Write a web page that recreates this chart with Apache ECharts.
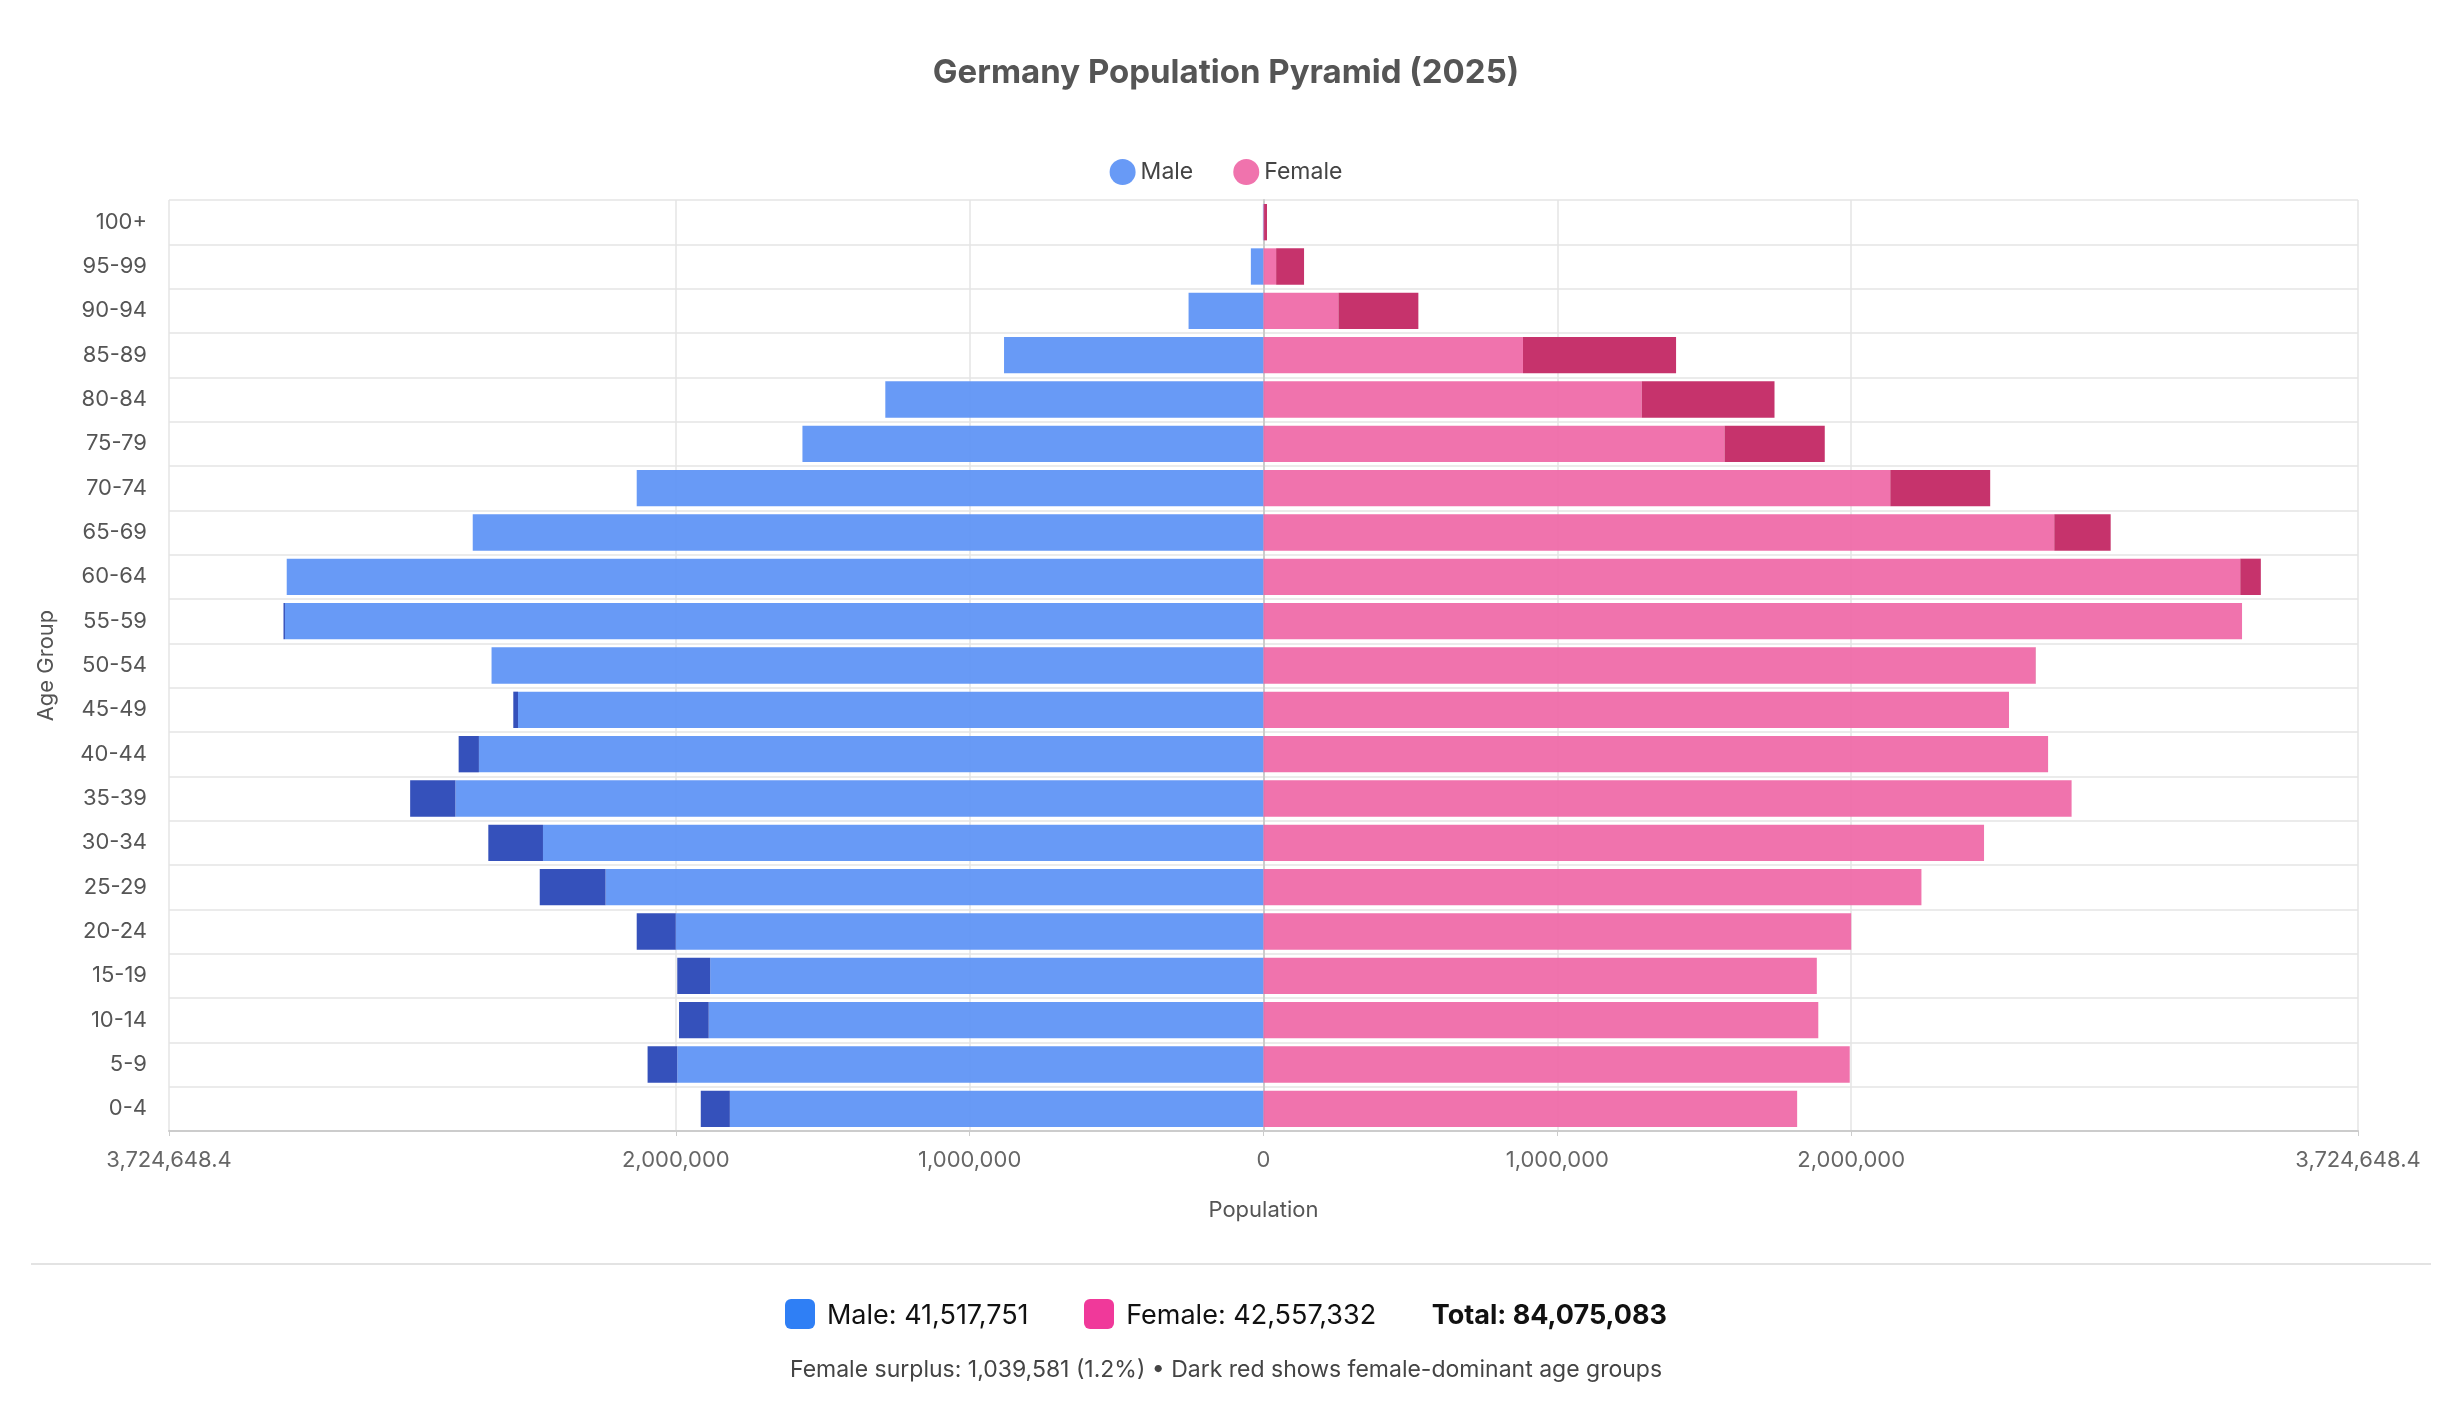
<!DOCTYPE html>
<html>
<head>
<meta charset="utf-8">
<script src="https://cdn.jsdelivr.net/npm/echarts@6/dist/echarts.min.js"></script>
<style>
    body{margin:0;background:#fff;font-family:Inter,"Noto Sans",sans-serif;}
    #chart{width:2452px;height:1408px;position:absolute;left:0;top:0;}
    #sep{position:absolute;left:31px;width:2400px;top:1263px;border-top:2px solid #e3e3e3;}
    #sum{position:absolute;left:0;width:2452px;top:1298px;text-align:center;font-size:27px;color:#111;}
    #sum .ico{display:inline-block;width:30px;height:30px;border-radius:6px;vertical-align:-5px;margin-right:12px;}
    #sum span.item{margin:0 24px;}
    #note{position:absolute;left:0;width:2452px;top:1355px;text-align:center;font-size:23px;color:#444;}
</style>
</head>
<body>
<div id="chart"></div>
<div id="sep"></div>
<div id="sum">
    <span class="item"><b class="ico" style="background:#2f7ff5"></b>Male: 41,517,751</span>
    <span class="item"><b class="ico" style="background:#f0399a"></b>Female: 42,557,332</span>
    <span class="item"><b>Total: 84,075,083</b></span>
</div>
<div id="note">Female surplus: 1,039,581 (1.2%) • Dark red shows female-dominant age groups</div>
<script>
// 年龄组（从下到上）
var ageGroups=["0-4","5-9","10-14","15-19","20-24","25-29","30-34","35-39","40-44","45-49","50-54","55-59","60-64","65-69","70-74","75-79","80-84","85-89","90-94","95-99","100+"];
var maleValues=[1915000,2096000,1989000,1995000,2133000,2463000,2638000,2904000,2739000,2553000,2627000,3335000,3324000,2691000,2133000,1569000,1287000,883000,255000,43000,2000];
var femaleValues=[1816000,1995000,1888000,1883000,2000000,2239000,2452000,2750000,2670000,2537000,2628000,3330000,3394000,2883000,2473000,1910000,1739000,1404000,527000,138000,12000];
var axisMax=3724648.4;
var tickValues=[-axisMax,-2000000,-1000000,0,1000000,2000000,axisMax];

var maleBase=[],maleExtra=[],femaleBase=[],femaleExtra=[];
for(var i=0;i<ageGroups.length;i++){
    var m=maleValues[i],f=femaleValues[i],lo=Math.min(m,f);
    maleBase.push(-lo);
    maleExtra.push(-Math.max(0,m-f));
    femaleBase.push(lo);
    femaleExtra.push(Math.max(0,f-m));
}

function fmt(v){
    v=Math.abs(v);
    if(Math.abs(v-axisMax)<1) return "3,724,648.4";
    return v.toLocaleString("en-US");
}

var chart=echarts.init(document.getElementById("chart"));
chart.setOption({
    animation:false,
    textStyle:{fontFamily:'Inter,"Noto Sans",sans-serif'},
    title:{text:"Germany Population Pyramid (2025)",left:"center",top:52,
        textStyle:{fontSize:33,fontWeight:"bold",color:"#555"}},
    legend:{data:["Male","Female"],top:154,icon:"circle",itemWidth:26,itemHeight:26,itemGap:40,
        textStyle:{fontSize:23,color:"#444"}},
    grid:{left:169,right:94,top:200,bottom:277},
    xAxis:{
        type:"value",min:-axisMax,max:axisMax,
        name:"Population",nameLocation:"middle",nameGap:68,
        nameTextStyle:{fontSize:22,color:"#555"},
        axisLine:{show:true,lineStyle:{color:"#ccc",width:2}},
        axisTick:{show:true,customValues:tickValues,lineStyle:{color:"#ccc"}},
        axisLabel:{customValues:tickValues,formatter:fmt,fontSize:22,color:"#666",margin:18},
        splitLine:{show:true,lineStyle:{color:"#e5e5e5",width:1.5}}
    },
    yAxis:{
        type:"category",data:ageGroups,
        name:"Age Group",nameLocation:"middle",nameGap:112,nameRotate:90,
        nameTextStyle:{fontSize:22,color:"#555"},
        axisLine:{show:true,lineStyle:{color:"#ccc",width:2}},
        axisTick:{show:false},
        axisLabel:{fontSize:22,color:"#555",margin:22},
        splitLine:{show:true,lineStyle:{color:"#e5e5e5",width:1.5}}
    },
    series:[
        {name:"Male",type:"bar",stack:"male",data:maleBase,barCategoryGap:"18%",
            itemStyle:{color:"#5b91f5",opacity:0.92}},
        {name:"Male surplus",type:"bar",stack:"male",data:maleExtra,
            itemStyle:{color:"#3551bb"}},
        {name:"Female",type:"bar",stack:"female",data:femaleBase,barGap:"-100%",
            itemStyle:{color:"#ef67a6",opacity:0.92}},
        {name:"Female surplus",type:"bar",stack:"female",data:femaleExtra,
            itemStyle:{color:"#c6336c"}}
    ]
});
</script>
</body>
</html>
